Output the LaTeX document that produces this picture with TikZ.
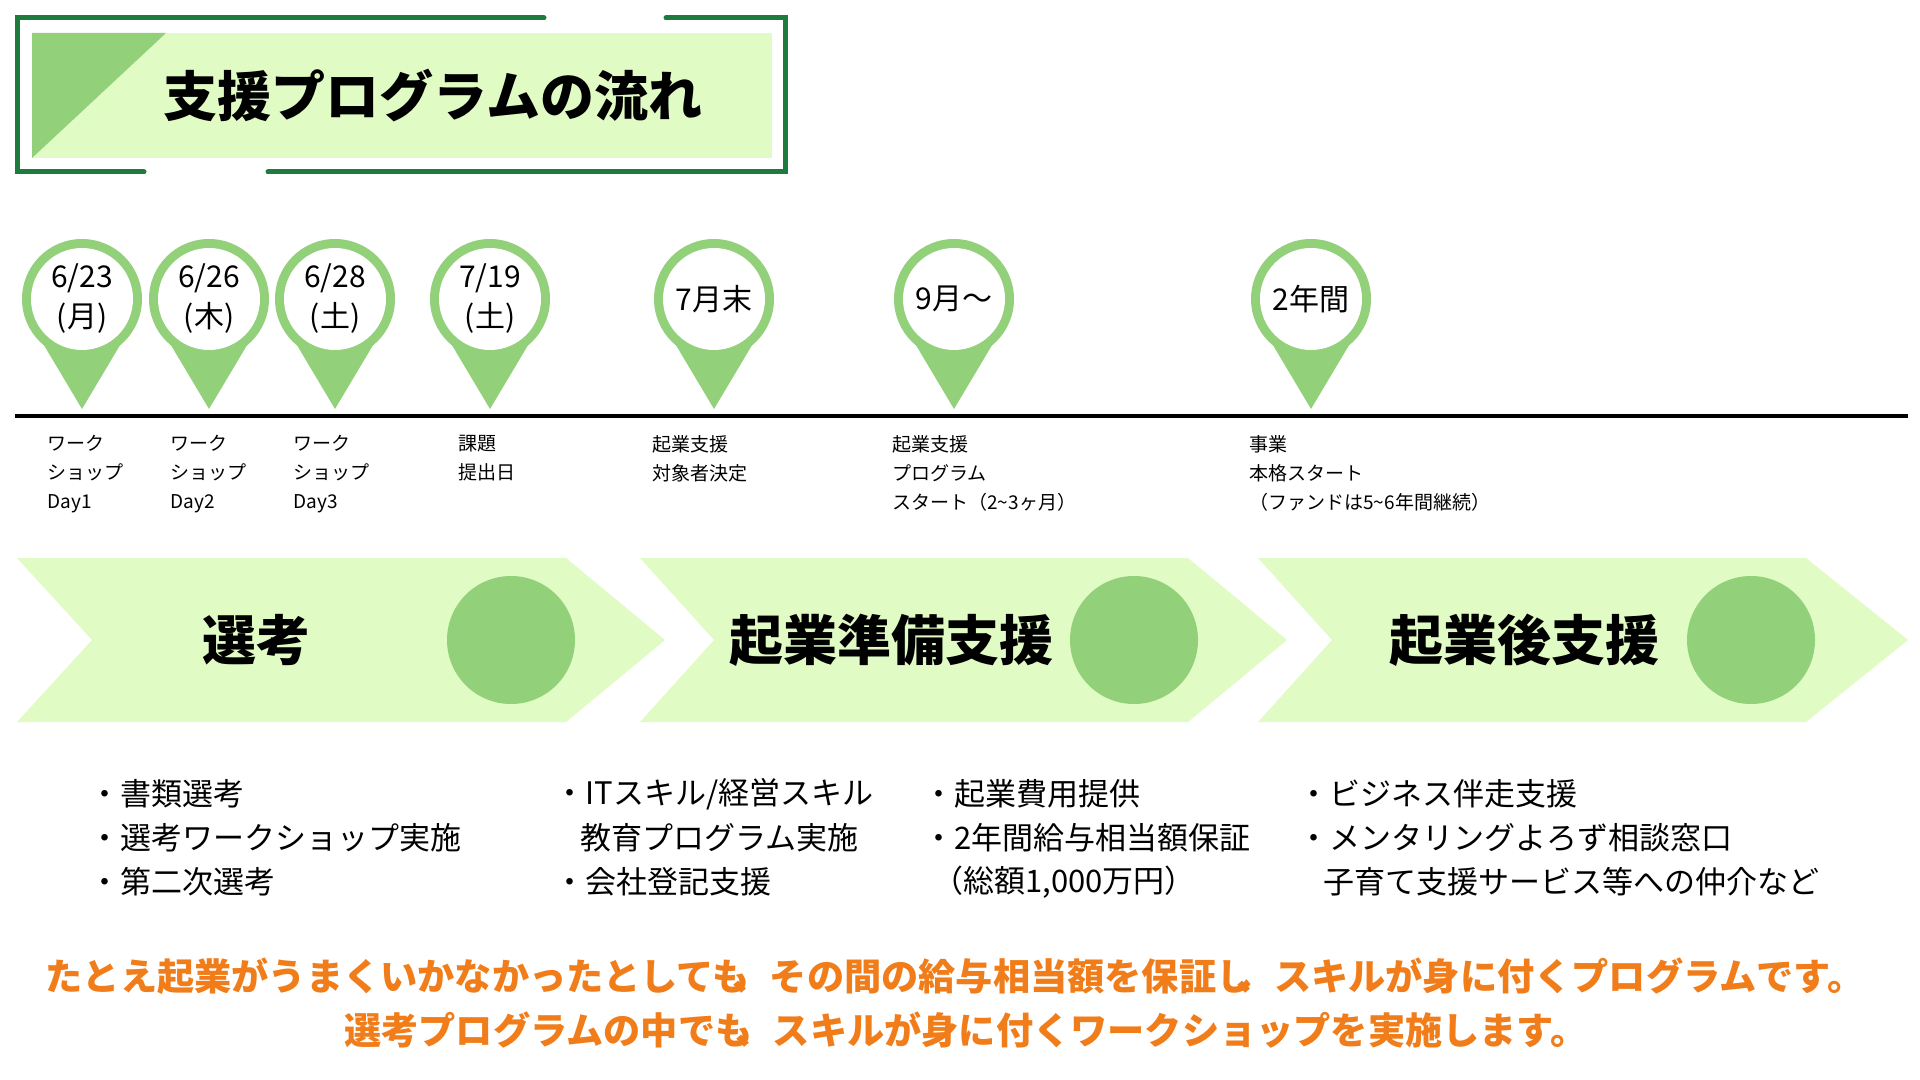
\documentclass[tikz,border=0pt]{standalone}
\usepackage{fontspec}
\setmainfont{Noto Sans CJK JP}[BoldFont={Noto Sans CJK JP Black}]
\newfontfamily\jpb{Noto Sans CJK JP Black}
\newcommand{\tld}{\textasciitilde}
\definecolor{dkg}{HTML}{1E7B3E}
\definecolor{ltg}{HTML}{E0FBC4}
\definecolor{mdg}{HTML}{92D07A}
\definecolor{org}{HTML}{F07D1A}
\tikzset{
 pin/.style={fill=mdg,draw=none},
 date/.style={font=\fontsize{15}{20}\selectfont,align=center},
 lab/.style={anchor=north west,font=\fontsize{9.5}{14.5}\selectfont,align=left,inner sep=0},
 chev/.style={fill=ltg,draw=none},
 ctitle/.style={font=\jpb\fontsize{27}{30}\selectfont},
 bul/.style={anchor=west,font=\fontsize{15.5}{22}\selectfont,inner sep=0},
 btm/.style={font=\jpb\fontsize{18.6}{27}\selectfont,text=org}
}
\begin{document}
\begin{tikzpicture}[x=0.5pt,y=-0.5pt]
\useasboundingbox (0,0) rectangle (1920,1080);
% title
\fill[ltg] (32,33) rectangle (772,158);
\fill[mdg] (32,33) -- (166,33) -- (32,158) -- cycle;
\draw[dkg,line width=2.5pt,line cap=round] (544,18) -- (17,18) -- (17,172) -- (144,172);
\draw[dkg,line width=2.5pt,line cap=round] (268,172) -- (785,172) -- (785,18) -- (666,18);
\node[font=\jpb\fontsize{27}{30}\selectfont] (title) at (433,95) {支援プログラムの流れ};
% timeline
\draw[line width=2pt] (15,416) coordinate (tl0) -- (1908,416) coordinate (tl1);
\foreach \x/\t/\n in {82/{6/23\\(月)}/p1,209/{6/26\\(木)}/p2,335/{6/28\\(土)}/p3,490/{7/19\\(土)}/p4,714/{7月末}/p5,954/{9月～}/p6,1311/{2年間}/p7}{
 \fill[pin] (\x-56,315) -- (\x,409) -- (\x+56,315) -- cycle;
 \fill[pin] (\x,299) circle[radius=60];
 \fill[white] (\x,299) circle[radius=51];
 \node[date] (\n) at (\x,299) {\t};
}
\node[lab] (l1) at (47,435) {ワーク\\ショップ\\Day1};
\node[lab] (l2) at (170,435) {ワーク\\ショップ\\Day2};
\node[lab] (l3) at (293,435) {ワーク\\ショップ\\Day3};
\node[lab] (l4) at (458,435) {課題\\提出日};
\node[lab] (l5) at (652,435) {起業支援\\対象者決定};
\node[lab] (l6) at (892,435) {起業支援\\プログラム\\スタート（2\tld3ヶ月）};
\node[lab] (l7) at (1249,435) {事業\\本格スタート\\（ファンドは5\tld6年間継続）};
% chevrons
\foreach \a/\b/\c/\d/\cx/\n in {17/92/566/665/511/c1,640/714/1188/1287/1134/c2,1258/1332/1806/1908/1751/c3}{
 \fill[chev] (\a,558) -- (\c,558) -- (\d,640) -- (\c,722) -- (\a,722) -- (\b,640) -- cycle;
 \fill[mdg] (\cx,640) circle[radius=64];
}
\node[ctitle] (t1) at (256,640) {選考};
\node[ctitle] (t2) at (891,640) {起業準備支援};
\node[ctitle] (t3) at (1524,640) {起業後支援};
% bullets
\node[bul] (b11) at (89,794) {・書類選考};
\node[bul] (b12) at (89,838) {・選考ワークショップ実施};
\node[bul] (b13) at (89,882) {・第二次選考};
\node[bul] (b21) at (554,794) {・ITスキル/経営スキル};
\node[bul] (b22) at (580,838) {教育プログラム実施};
\node[bul] (b23) at (554,882) {・会社登記支援};
\node[bul] (b31) at (923,794) {・起業費用提供};
\node[bul] (b32) at (923,838) {・2年間給与相当額保証};
\node[bul] (b33) at (932,882) {（総額1,000万円）};
\node[bul] (b41) at (1298,794) {・ビジネス伴走支援};
\node[bul] (b42) at (1298,838) {・メンタリングよろず相談窓口};
\node[bul] (b43) at (1323,882) {子育て支援サービス等への仲介など};
% bottom
\node[btm] (m1) at (955,976) {たとえ起業がうまくいかなかったとしても\kern-0.45em、その間の給与相当額を保証し\kern-0.45em、スキルが身に付くプログラムです。};
\node[btm] (m2) at (966,1030) {選考プログラムの中でも\kern-0.45em、スキルが身に付くワークショップを実施します。};
\end{tikzpicture}
\end{document}
